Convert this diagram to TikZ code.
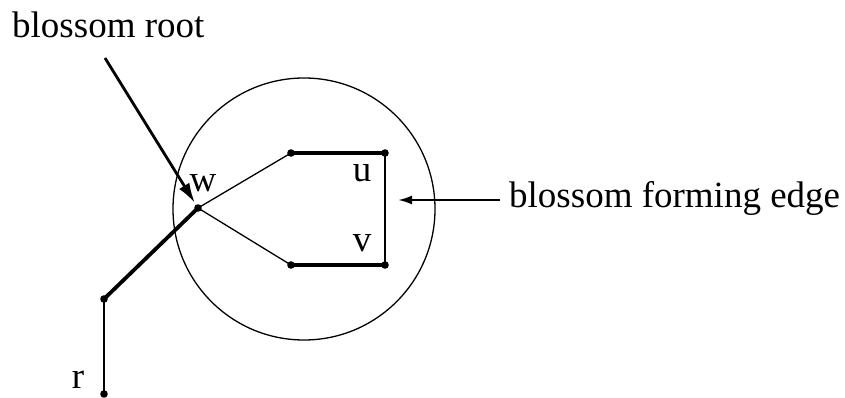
\documentclass[tikz,border=0pt]{standalone}
\usepackage{fontspec}
\setmainfont{Liberation Serif}
\usetikzlibrary{arrows.meta}
\begin{document}
\begin{tikzpicture}[x=1pt,y=-1pt,
  lbl/.style={font=\fontsize{37}{40}\selectfont, inner sep=0pt},
  thin/.style={line width=1.3pt},
  thick/.style={line width=3.8pt},
  dotmark/.style={fill=black},
]
\useasboundingbox (0,0) rectangle (845,398);
% points
\coordinate (w) at (198,208);
\coordinate (a) at (291,153);
\coordinate (u) at (385,153);
\coordinate (b) at (291,265);
\coordinate (v) at (385,265);
\coordinate (p) at (104,299);
\coordinate (r) at (104,394);
\coordinate (c) at (304,209);
\coordinate (rs) at (105,58);
\coordinate (fs) at (500,200);
\coordinate (ft) at (398,200);
% blossom circle
\draw[thin] (c) circle[radius=131];
% edges
\draw[thin] (w) -- (a);
\draw[thin] (w) -- (b);
\draw[thin] (u) -- (v);
\draw[thick] (a) -- (u);
\draw[thick] (b) -- (v);
\draw[thick] (p) -- (w);
\draw[thin] (p) -- (r);
% dots
\foreach \q in {w,a,u,b,v,p,r} \fill[dotmark] (\q) circle[radius=3.8];
% arrows
\draw[line width=2.8pt, -{Latex[length=20pt,width=12pt]}, shorten >=6pt] (rs) -- (w);
\draw[line width=2.2pt, -{Latex[length=14pt,width=9pt]}] (fs) -- (ft);
% labels
\node[lbl, anchor=base west] (tr) at (12,38) {blossom root};
\node[lbl, anchor=base west] (tf) at (509,207) {blossom forming edge};
\node[lbl] (lw) at (203,183) {w};
\node[lbl] (lu) at (362,173) {u};
\node[lbl] (lv) at (362,243) {v};
\node[lbl] (lr) at (78,380) {r};
\end{tikzpicture}
\end{document}
